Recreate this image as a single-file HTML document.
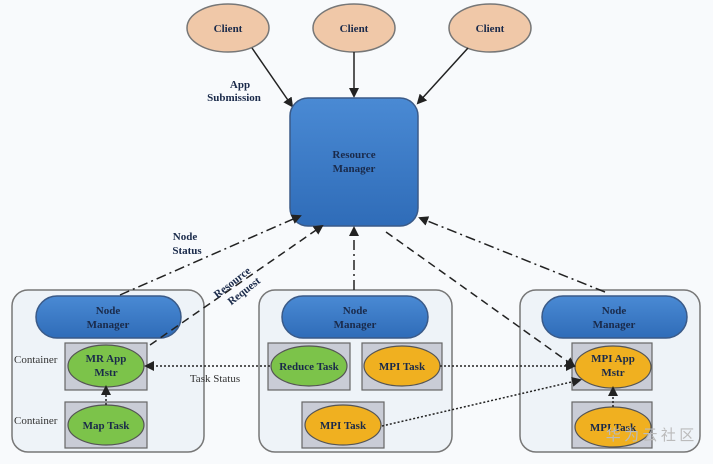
<!DOCTYPE html>
<html><head><style>body{margin:0;background:#fff}svg{display:block}text{font-family:"Liberation Serif",serif;font-weight:bold;font-size:11px;fill:#1a2a4a}text.n{font-weight:normal;fill:#333}</style></head><body>
<svg width="713" height="464" viewBox="0 0 713 464">
<defs>
<marker id="a" markerWidth="10" markerHeight="10" refX="8" refY="5" orient="auto" markerUnits="userSpaceOnUse"><path d="M0,0 L10,5 L0,10 Z" fill="#222"/></marker>
<linearGradient id="bl" x1="0" y1="0" x2="0" y2="1"><stop offset="0" stop-color="#4a8ad4"/><stop offset="1" stop-color="#2f6cb8"/></linearGradient>
</defs>
<rect width="713" height="464" fill="#f8fafc"/>
<g fill="#f0c8a8" stroke="#777" stroke-width="1.5">
<ellipse cx="228" cy="28" rx="41" ry="24"/><ellipse cx="354" cy="28" rx="41" ry="24"/><ellipse cx="490" cy="28" rx="41" ry="24"/></g>
<text x="228" y="32" text-anchor="middle">Client</text><text x="354" y="32" text-anchor="middle">Client</text><text x="490" y="32" text-anchor="middle">Client</text>
<g stroke="#222" stroke-width="1.5" marker-end="url(#a)">
<line x1="252" y1="48" x2="292" y2="106"/><line x1="354" y1="52" x2="354" y2="96"/><line x1="468" y1="48" x2="418" y2="103"/></g>
<text x="240" y="88" text-anchor="middle">App</text><text x="234" y="101" text-anchor="middle">Submission</text>
<rect x="290" y="98" width="128" height="128" rx="18" fill="url(#bl)" stroke="#3a5a88" stroke-width="1.5"/>
<text x="354" y="158" text-anchor="middle" font-size="10">Resource</text><text x="354" y="172" text-anchor="middle" font-size="10">Manager</text>
<g fill="#eef3f8" stroke="#777" stroke-width="1.5">
<rect x="12" y="290" width="192" height="162" rx="16"/><rect x="259" y="290" width="193" height="162" rx="16"/><rect x="520" y="290" width="180" height="162" rx="16"/></g>
<g fill="url(#bl)" stroke="#3a5a88" stroke-width="1.5">
<rect x="36" y="296" width="145" height="42" rx="21"/><rect x="282" y="296" width="146" height="42" rx="21"/><rect x="542" y="296" width="145" height="42" rx="21"/></g>
<text x="108" y="314" text-anchor="middle">Node</text><text x="108" y="328" text-anchor="middle">Manager</text>
<text x="355" y="314" text-anchor="middle">Node</text><text x="355" y="328" text-anchor="middle">Manager</text>
<text x="614" y="314" text-anchor="middle">Node</text><text x="614" y="328" text-anchor="middle">Manager</text>
<g fill="#c9ccd6" stroke="#666" stroke-width="1.2">
<rect x="65" y="343" width="82" height="47"/><rect x="65" y="402" width="82" height="46"/>
<rect x="268" y="343" width="82" height="47"/><rect x="362" y="343" width="80" height="47"/><rect x="302" y="402" width="82" height="46"/>
<rect x="572" y="343" width="80" height="47"/><rect x="572" y="402" width="80" height="46"/></g>
<g stroke="#555" stroke-width="1.2">
<ellipse cx="106" cy="366" rx="38" ry="21" fill="#7cc34a"/><ellipse cx="106" cy="425" rx="38" ry="20" fill="#7cc34a"/>
<ellipse cx="309" cy="366" rx="38" ry="20" fill="#7cc34a"/><ellipse cx="402" cy="366" rx="38" ry="20" fill="#f0b020"/>
<ellipse cx="343" cy="425" rx="38" ry="20" fill="#f0b020"/><ellipse cx="613" cy="367" rx="38" ry="21" fill="#f0b020"/><ellipse cx="613" cy="427" rx="38" ry="20" fill="#f0b020"/></g>
<text x="106" y="362" text-anchor="middle">MR App</text><text x="106" y="376" text-anchor="middle">Mstr</text>
<text x="106" y="429" text-anchor="middle">Map Task</text>
<text x="309" y="370" text-anchor="middle">Reduce Task</text><text x="402" y="370" text-anchor="middle">MPI Task</text>
<text x="343" y="429" text-anchor="middle">MPI Task</text>
<text x="613" y="362" text-anchor="middle">MPI App</text><text x="613" y="376" text-anchor="middle">Mstr</text>
<text x="613" y="431" text-anchor="middle">MPI Task</text>
<text class="n" x="14" y="363">Container</text><text class="n" x="14" y="424">Container</text>
<text class="n" x="215" y="382" text-anchor="middle">Task Status</text>
<g stroke="#222" stroke-width="1.5" fill="none" marker-end="url(#a)">
<line x1="120" y1="295" x2="300" y2="216" stroke-dasharray="10,4,2,4"/>
<line x1="354" y1="290" x2="354" y2="228" stroke-dasharray="10,4,2,4"/>
<line x1="605" y1="292" x2="420" y2="218" stroke-dasharray="10,4,2,4"/>
<line x1="150" y1="345" x2="322" y2="226" stroke-dasharray="8,5"/>
<line x1="386" y1="232" x2="574" y2="366" stroke-dasharray="8,5"/>
<line x1="270" y1="366" x2="146" y2="366" stroke-dasharray="2,2"/>
<line x1="440" y1="366" x2="574" y2="366" stroke-dasharray="2,2"/>
<line x1="382" y1="426" x2="580" y2="380" stroke-dasharray="2,2"/>
<line x1="106" y1="405" x2="106" y2="387" stroke-dasharray="2,2"/>
<line x1="613" y1="407" x2="613" y2="388" stroke-dasharray="2,2"/>
</g>
<text x="185" y="240" text-anchor="middle">Node</text><text x="187" y="254" text-anchor="middle">Status</text>
<g transform="translate(238,290) rotate(-38)"><text x="0" y="-6" text-anchor="middle">Resource</text><text x="4" y="8" text-anchor="middle">Request</text></g>
<text class="n" x="650" y="440" text-anchor="middle" style="font-size:15px;fill:#bbb;font-family:'Noto Sans CJK SC',sans-serif">华 为 云 社 区</text>
</svg>
</body></html>
